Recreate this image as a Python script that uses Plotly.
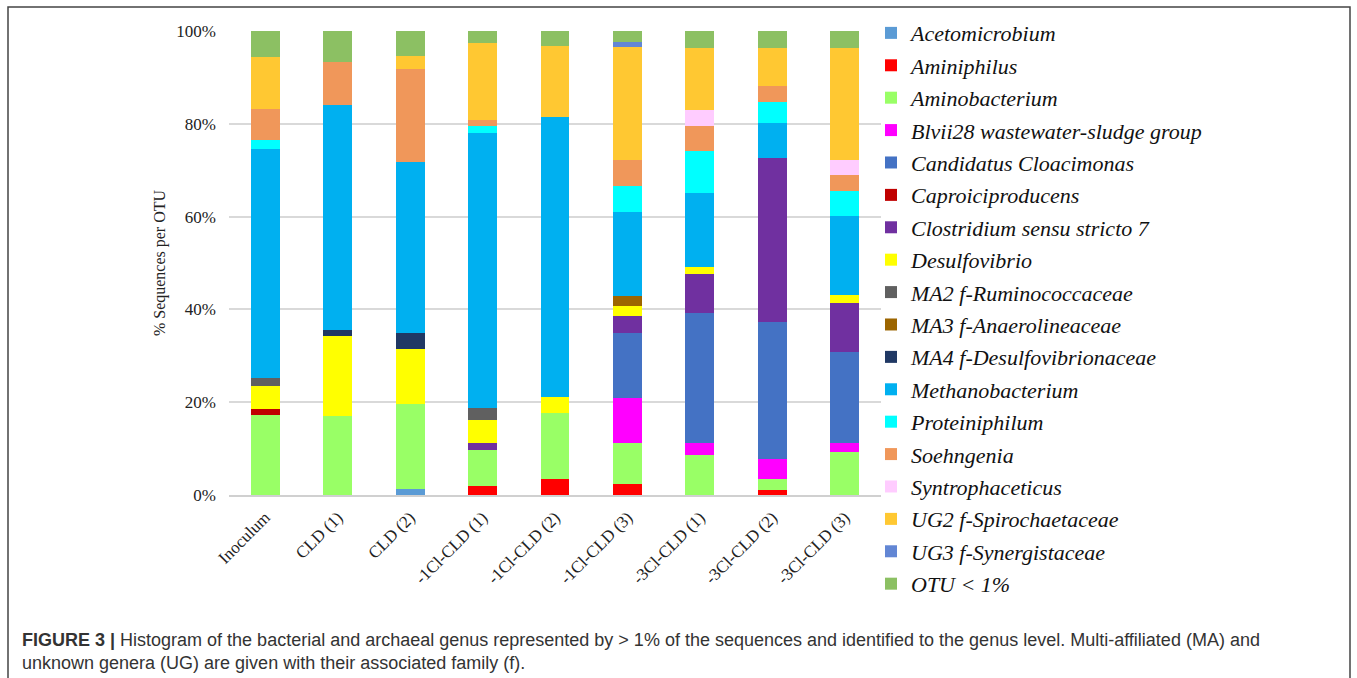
import plotly.graph_objects as go

categories = ["Inoculum", "CLD (1)", "CLD (2)", "-1Cl-CLD (1)", "-1Cl-CLD (2)",
              "-1Cl-CLD (3)", "-3Cl-CLD (1)", "-3Cl-CLD (2)", "-3Cl-CLD (3)"]

acetomicrobium    = [0, 0, 1.2, 0, 0, 0, 0, 0, 0]
aminiphilus       = [0, 0, 0, 1.9, 3.4, 2.4, 0, 1.1, 0]
aminobacterium    = [17.2, 17.0, 18.5, 7.7, 14.2, 8.9, 8.7, 2.4, 9.2]
blvii28           = [0, 0, 0, 0, 0, 9.7, 2.6, 4.3, 2.1]
candidatus        = [0, 0, 0, 0, 0, 13.9, 28.0, 29.5, 19.5]
caproiciproducens = [1.3, 0, 0, 0, 0, 0, 0, 0, 0]
clostridium       = [0, 0, 0, 1.6, 0, 3.6, 8.3, 35.4, 10.5]
desulfovibrio     = [4.9, 17.2, 11.8, 5.0, 3.6, 2.3, 1.6, 0, 1.9]
ma2               = [1.8, 0, 0, 2.5, 0, 0, 0, 0, 0]
ma3               = [0, 0, 0, 0, 0, 2.1, 0, 0, 0]
ma4               = [0, 1.3, 3.5, 0, 0, 0, 0, 0, 0]
methanobacterium  = [49.4, 48.6, 36.8, 59.4, 60.2, 18.1, 15.9, 7.4, 17.0]
proteiniphilum    = [2.0, 0, 0, 1.4, 0, 5.6, 9.1, 4.6, 5.4]
soehngenia        = [6.6, 9.2, 20.0, 1.3, 0, 5.6, 5.4, 3.4, 3.3]
syntrophaceticus  = [0, 0, 0, 0, 0, 0, 3.4, 0, 3.2]
ug2               = [11.3, 0, 2.9, 16.6, 15.3, 24.3, 13.4, 8.2, 24.3]
ug3               = [0, 0, 0, 0, 0, 1.1, 0, 0, 0]
otu_lt1           = [5.5, 6.7, 5.2, 2.6, 3.4, 2.4, 3.6, 3.8, 3.6]

series_names = ["Acetomicrobium", "Aminiphilus", "Aminobacterium",
                "Blvii28 wastewater-sludge group", "Candidatus Cloacimonas",
                "Caproiciproducens", "Clostridium sensu stricto 7", "Desulfovibrio",
                "MA2 f-Ruminococcaceae", "MA3 f-Anaerolineaceae",
                "MA4 f-Desulfovibrionaceae", "Methanobacterium", "Proteiniphilum",
                "Soehngenia", "Syntrophaceticus", "UG2 f-Spirochaetaceae",
                "UG3 f-Synergistaceae", "OTU &lt; 1%"]
series_values = [acetomicrobium, aminiphilus, aminobacterium, blvii28, candidatus,
                 caproiciproducens, clostridium, desulfovibrio, ma2, ma3, ma4,
                 methanobacterium, proteiniphilum, soehngenia, syntrophaceticus,
                 ug2, ug3, otu_lt1]
series_colors = ["#5B9BD5", "#FF0000", "#99FF66", "#FF00FF", "#4472C4", "#C00000",
                 "#7030A0", "#FFFF00", "#606060", "#9C6500", "#203864", "#00B0F0",
                 "#00FFFF", "#F0975A", "#FFCCFF", "#FFC832", "#6286D4", "#8CC063"]

W, H = 1357, 678
L, R, T, B = 229, W - 881, 29, H - 495
PW, PH = W - L - R, H - T - B


def px_x(p):
    return (p - L) / PW


def px_y(p):
    return (H - B - p) / PH


fig = go.Figure()
for i, (name, vals, col) in enumerate(zip(series_names, series_values, series_colors)):
    fig.add_trace(go.Bar(x=categories, y=vals, name=name, marker_color=col,
                         marker_line_width=0, legendgroup="g%d" % i))

serif = "Liberation Serif, Times New Roman, serif"
fig.update_layout(
    width=W, height=H,
    margin=dict(l=L, r=R, t=T, b=B),
    barmode="stack", bargap=0.6,
    plot_bgcolor="white", paper_bgcolor="white",
    font=dict(family=serif, color="#222"),
    legend=dict(x=px_x(871), y=px_y(10), xanchor="left", yanchor="top",
                traceorder="grouped", tracegroupgap=0.8, maxheight=660,
                font=dict(family=serif, size=22, style="italic", color="#111"),
                bgcolor="rgba(0,0,0,0)"),
    xaxis=dict(tickangle=-45, tickfont=dict(family=serif, size=17, color="#222"),
               showline=True, linecolor="#d0d0d0", linewidth=1.5, ticks="",
               ticklabelstandoff=4),
    yaxis=dict(range=[0, 100], dtick=20, ticksuffix="%", showgrid=True,
               gridcolor="#d9d9d9", gridwidth=1.5, zeroline=False, ticks="",
               tickfont=dict(family=serif, size=17, color="#222"),
               ticklabelstandoff=12,
               title=dict(text="% Sequences per OTU", standoff=6,
                          font=dict(family=serif, size=16, color="#222"))),
)

fig.add_shape(type="rect", xref="paper", yref="paper",
              x0=px_x(8), x1=px_x(1350), y0=px_y(690), y1=px_y(5),
              line=dict(color="#444", width=1.5), fillcolor="rgba(0,0,0,0)")

caption = ("<b>FIGURE 3 |</b> Histogram of the bacterial and archaeal genus represented by &gt; 1% "
           "of the sequences and identified to the genus level. Multi-affiliated (MA) and"
           "<br>unknown genera (UG) are given with their associated family (f).")
fig.add_annotation(text=caption, xref="paper", yref="paper", x=px_x(20), y=px_y(629),
                   xanchor="left", yanchor="top", align="left", showarrow=False,
                   font=dict(family="Liberation Sans, Arial, sans-serif", size=18,
                             color="#333"))

fig.write_html("out.html", config={"displayModeBar": False},
               post_script="document.body.style.margin='0';document.body.style.overflow='hidden';")
